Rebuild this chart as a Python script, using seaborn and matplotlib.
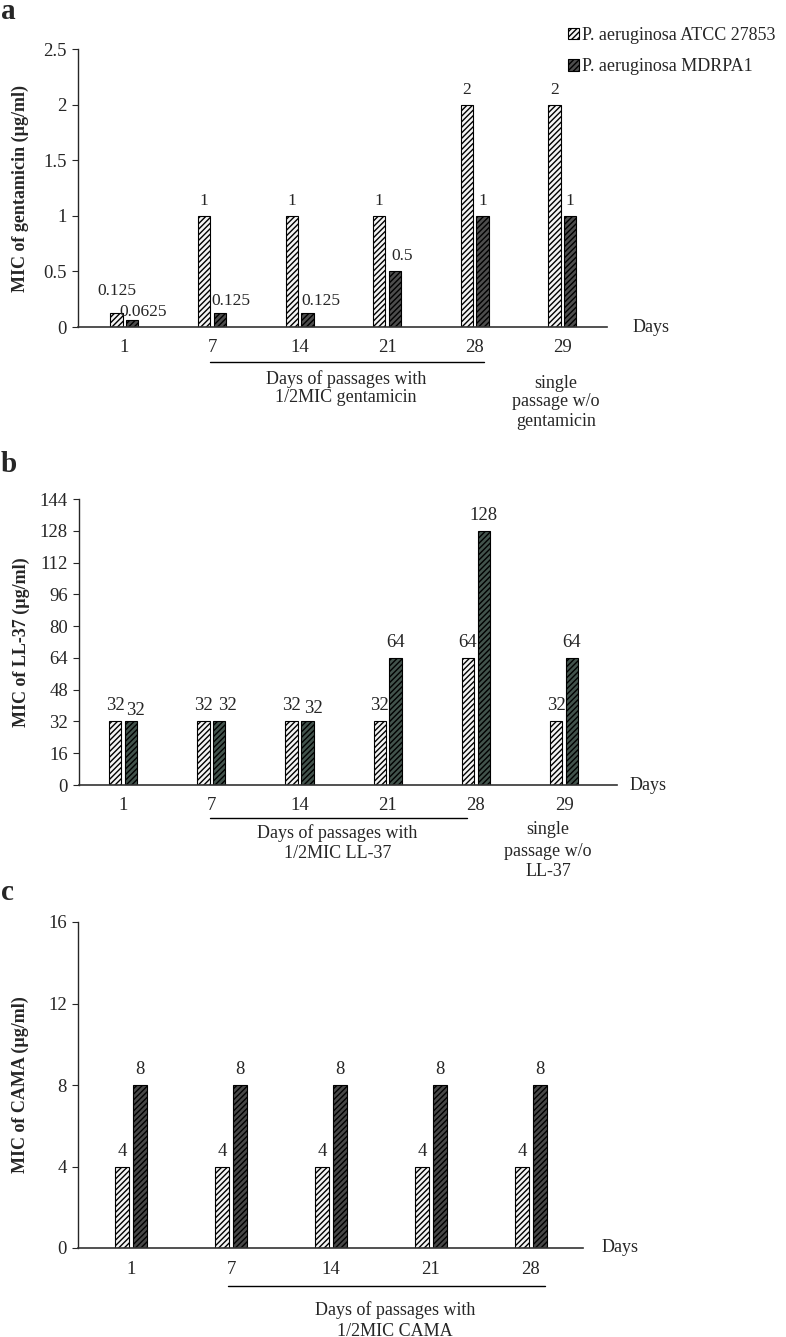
import numpy as np
import pandas as pd
import matplotlib
matplotlib.use('Agg')
import matplotlib.pyplot as plt
import matplotlib.patches as mpatches
import matplotlib.transforms as mtrans
import seaborn as sns

sns.set_style('ticks')
plt.rcParams['font.family'] = ['Liberation Serif', 'DejaVu Serif']
plt.rcParams['hatch.linewidth'] = 1.0

STRAINS = ['P. aeruginosa ATCC 27853', 'P. aeruginosa MDRPA1']

# a: gentamicin
days_a = ['1', '7', '14', '21', '28', '29']
gen_atcc = [0.125, 1, 1, 1, 2, 2]
gen_mdr = [0.0625, 0.125, 0.125, 0.5, 1, 1]
gen_yticks = [0, 0.5, 1, 1.5, 2, 2.5]
gen_yticklabels = ['0', '0.5', '1', '1.5', '2', '2.5']

# b: LL-37
days_b = ['1', '7', '14', '21', '28', '29']
ll_atcc = [32, 32, 32, 32, 64, 32]
ll_mdr = [32, 32, 32, 64, 128, 64]
ll_yticks = [0, 16, 32, 48, 64, 80, 96, 112, 128, 144]

# c: CAMA
days_c = ['1', '7', '14', '21', '28']
cama_atcc = [4, 4, 4, 4, 4]
cama_mdr = [8, 8, 8, 8, 8]
cama_yticks = [0, 4, 8, 12, 16]

HATCH = '//////'
ATCC_COLOR = '#f4f4f4'

W, H = 786, 1337
fig = plt.figure(figsize=(W / 100, H / 100), dpi=100)


def box(left, right, top, bottom):
    return [left / W, 1 - bottom / H, (right - left) / W, (bottom - top) / H]


def draw_panel(ax, days, atcc, mdr, yticks, ylabel, mdr_color, xlim, shifts=None, fs=13.5, lfs=13.5):
    n = len(days)
    df = pd.DataFrame({'day': days * 2, 'mic': atcc + mdr,
                       'strain': [STRAINS[0]] * n + [STRAINS[1]] * n})
    sns.barplot(data=df, x='day', y='mic', hue='strain', order=days, hue_order=STRAINS,
                palette=[ATCC_COLOR, mdr_color], width=0.36, gap=0.22,
                edgecolor='black', linewidth=0.8, ax=ax, legend=False, errorbar=None)
    for cont in ax.containers:
        for bar in cont:
            bar.set_hatch(HATCH)
    # value labels
    shifts = shifts or {}
    for s, (cont, vals) in enumerate(zip(ax.containers, [atcc, mdr])):
        for i, (bar, v) in enumerate(zip(cont, vals)):
            dx, dy = shifts.get((s, i), (0, 5))
            ax.annotate('%g' % v, (bar.get_x() + bar.get_width() / 2, bar.get_height()),
                        xytext=(dx, dy), textcoords='offset points',
                        ha='center', va='bottom', fontsize=lfs)
    ax.set_xlim(*xlim)
    ax.set_ylim(yticks[0], yticks[-1])
    ax.set_yticks(yticks)
    ax.set_xlabel('')
    ax.set_ylabel(ylabel, fontsize=13, fontweight='bold')
    sns.despine(ax=ax)
    ax.spines['left'].set_linewidth(1)
    ax.spines['bottom'].set_linewidth(1.2)
    ax.spines['bottom'].set_color('#333333')
    ax.tick_params(axis='y', length=4, width=0.8, pad=4, labelsize=fs)
    ax.tick_params(axis='x', length=0, pad=9, labelsize=fs)


def below(ax, x0, x1, lines, line_px, text_px, text_x):
    # underline plus caption below the x axis, in pixel offsets from the axis line
    h = ax.get_position().height * H
    tr = mtrans.blended_transform_factory(ax.transData, ax.transAxes)
    if x0 is not None:
        ax.plot([x0, x1], [-line_px / h] * 2, color='black', lw=1, transform=tr, clip_on=False)
    for k, t in enumerate(lines):
        ax.text(text_x, -text_px[k] / h, t, transform=tr, ha='center', va='center', fontsize=13)


def days_label(ax, x_px):
    pos = ax.get_position()
    fig.text(x_px / W, pos.y0, 'Days', ha='left', va='center', fontsize=13)


# ---- panel a
ax_a = fig.add_axes(box(78, 607, 49, 327))
shifts_a = {(0, 0): (0, 10), (1, 0): (8, 0), (1, 1): (8, 3), (1, 2): (10, 3), (1, 3): (5, 5)}
draw_panel(ax_a, days_a, gen_atcc, gen_mdr, gen_yticks, 'MIC of gentamicin (\u00b5g/ml)',
           '#4d4d4d', (-0.53, 5.51), shifts_a, fs=13.5, lfs=12.5)
ax_a.set_yticklabels(gen_yticklabels)
ax_a.yaxis.set_label_coords((20 - 78) / 529, 0.5)
ax_a.yaxis.label.set_va('center')
below(ax_a, 0.977, 4.11, ['Days of passages with', '1/2MIC gentamicin'], 35, [52, 70], 2.53)
below(ax_a, None, None, ['single', 'passage w/o', 'gentamicin'], 0, [56, 75, 94], 4.93)
days_label(ax_a, 633)

# ---- panel b
ax_b = fig.add_axes(box(79, 617, 499, 785))
shifts_b = {(1, 0): (3, 2), (1, 1): (6, 5), (1, 2): (4, 3)}
draw_panel(ax_b, days_b, ll_atcc, ll_mdr, ll_yticks, 'MIC of LL-37 (\u00b5g/ml)',
           '#3f564c', (-0.5, 5.6), shifts_b)
ax_b.yaxis.set_label_coords((21 - 79) / 538, 0.5)
ax_b.yaxis.label.set_va('center')
below(ax_b, 0.986, 3.9, ['Days of passages with', '1/2MIC LL-37'], 33, [48, 68], 2.43)
below(ax_b, None, None, ['single', 'passage w/o', 'LL-37'], 0, [45, 66, 86], 4.82)
days_label(ax_b, 630)

# ---- panel c
ax_c = fig.add_axes(box(78, 583, 922, 1248))
draw_panel(ax_c, days_c, cama_atcc, cama_mdr, cama_yticks, 'MIC of CAMA (\u00b5g/ml)',
           '#474747', (-0.53, 4.52))
ax_c.yaxis.set_label_coords((20 - 78) / 505, 0.5)
ax_c.yaxis.label.set_va('center')
below(ax_c, 0.97, 4.14, ['Days of passages with', '1/2MIC CAMA'], 38, [62, 83], 2.64)
days_label(ax_c, 602)

# panel letters
for letter, base in [('a', 19), ('b', 472), ('c', 900)]:
    fig.text(1 / W, 1 - base / H, letter, ha='left', va='baseline', fontsize=21, fontweight='bold')

# legend
handles = [mpatches.Patch(facecolor=ATCC_COLOR, edgecolor='black', hatch=HATCH, lw=0.8),
           mpatches.Patch(facecolor='#4d4d4d', edgecolor='black', hatch=HATCH, lw=0.8)]
fig.legend(handles, STRAINS, loc='upper left', bbox_to_anchor=(568 / W, 1 - 27 / H),
           frameon=False, fontsize=13, handlelength=0.6, handleheight=0.6,
           handletextpad=0.2, labelspacing=0.8, borderpad=0, borderaxespad=0)

fig.savefig('out.png', dpi=100)
